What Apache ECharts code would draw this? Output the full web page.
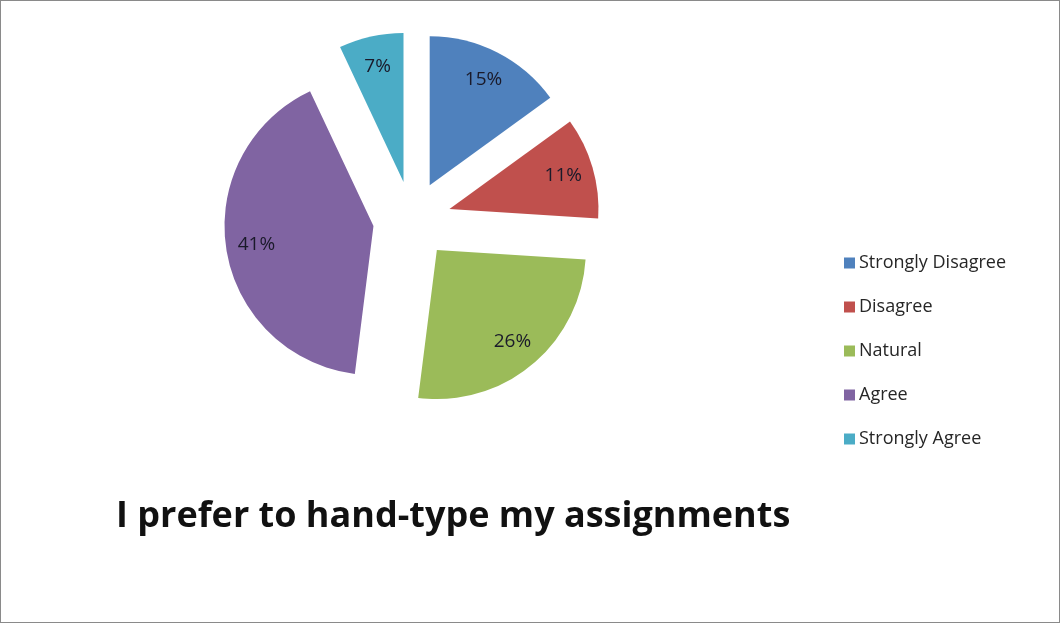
<!DOCTYPE html>
<html>
<head>
<meta charset="utf-8">
<script src="https://cdn.jsdelivr.net/npm/echarts@6/dist/echarts.min.js"></script>
<style>
  html, body { margin: 0; padding: 0; background: #fff; }
  #chart { width: 1060px; height: 623px; box-sizing: border-box; border: 1px solid #8a8a8a; }
</style>
</head>
<body>
<div id="chart"></div>
<script>
// Survey responses (percent of respondents)
const categories = ['Strongly Disagree', 'Disagree', 'Natural', 'Agree', 'Strongly Agree'];
const values = [15, 11, 26, 41, 7];
const colors = ['#4F81BD', '#C0504D', '#9BBB59', '#8064A2', '#4BACC6'];
const titleText = 'I prefer to hand-type my assignments';

const chart = echarts.init(document.getElementById('chart'));

const center = [411, 219];
const explode = 39;

// every slice pulled out from the centre
const sliceData = categories.map((name, i) => ({ name, value: values[i], selected: true }));

chart.setOption({
  animation: false,
  color: colors,
  title: {
    text: titleText,
    left: 110,
    top: 493,
    textStyle: { fontFamily: 'Open Sans', fontWeight: 'bold', fontSize: 36, color: '#111' }
  },
  legend: {
    orient: 'vertical',
    left: 838,
    top: 245,
    itemWidth: 11,
    itemHeight: 11,
    itemGap: 20,
    icon: 'rect',
    data: categories,
    textStyle: { fontFamily: 'Open Sans', fontSize: 18, lineHeight: 24, color: '#262626', padding: [0, 0, 0, -1] }
  },
  series: [
    {
      // coloured slices
      type: 'pie',
      center: center,
      radius: 149,
      startAngle: 90,
      clockwise: true,
      selectedMode: 'multiple',
      selectedOffset: explode,
      label: { show: false },
      labelLine: { show: false },
      emphasis: { disabled: true },
      data: sliceData
    },
    {
      // transparent ring carrying the percentage labels
      type: 'pie',
      center: center,
      radius: [82, 149],
      startAngle: 90,
      clockwise: true,
      silent: true,
      legendHoverLink: false,
      selectedMode: 'multiple',
      selectedOffset: explode,
      itemStyle: { color: 'rgba(0,0,0,0)' },
      label: {
        show: true,
        position: 'inside',
        formatter: '{c}%',
        fontFamily: 'Open Sans',
        fontSize: 19,
        color: '#1a1a2a'
      },
      labelLine: { show: false },
      emphasis: { disabled: true },
      data: sliceData
    }
  ]
});
</script>
</body>
</html>
